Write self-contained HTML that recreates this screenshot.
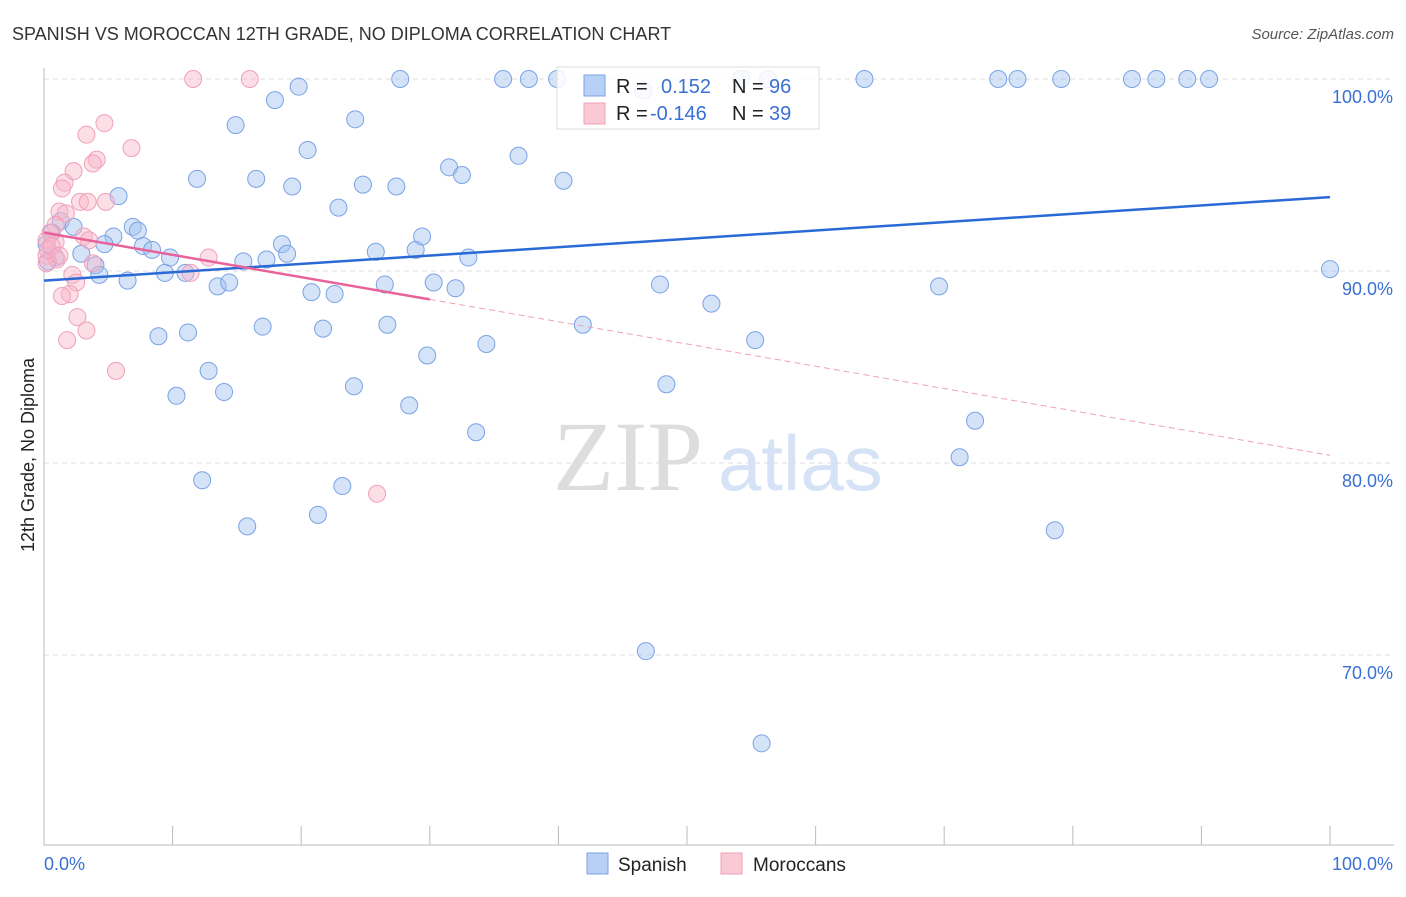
<!DOCTYPE html>
<html><head><meta charset="utf-8"><style>
body{margin:0;background:#fff;font-family:"Liberation Sans",sans-serif;}
svg text{font-family:"Liberation Sans",sans-serif;}
</style></head><body>
<svg id="chart" width="1406" height="892" xmlns="http://www.w3.org/2000/svg">
<text x="12" y="40" font-size="18" fill="#333">SPANISH VS MOROCCAN 12TH GRADE, NO DIPLOMA CORRELATION CHART</text>
<text x="1394" y="39" font-size="15" fill="#555" font-style="italic" text-anchor="end">Source: ZipAtlas.com</text>
<text x="34" y="455" font-size="18" fill="#222" transform="rotate(-90 34 455)" text-anchor="middle">12th Grade, No Diploma</text>
<text x="553" y="490" font-size="100" fill="#ddd" font-family="Liberation Serif" style="font-family:'Liberation Serif',serif">ZIP</text>
<text x="718" y="490" font-size="78" fill="#d6e2f5">atlas</text>
<g id="grid"></g><g id="axes"></g><g id="lines"></g><g id="pts"></g>
<g>
<rect x="557" y="67" width="262" height="62" fill="#fff" fill-opacity="0.85" stroke="#ddd"/>
<rect x="584" y="75" width="21" height="21" fill="#b8d0f5" stroke="#7aa3e5"/>
<rect x="584" y="103" width="21" height="21" fill="#fbc8d6" stroke="#f0a0b8"/>
<text x="616" y="93" font-size="20" fill="#222">R = </text><text x="661" y="93" font-size="20" fill="#3a6fd4">0.152</text>
<text x="732" y="93" font-size="20" fill="#222">N = </text><text x="769" y="93" font-size="20" fill="#3a6fd4">96</text>
<text x="616" y="120" font-size="20" fill="#222">R = </text><text x="650" y="120" font-size="20" fill="#3a6fd4">-0.146</text>
<text x="732" y="120" font-size="20" fill="#222">N = </text><text x="769" y="120" font-size="20" fill="#3a6fd4">39</text>
</g>
<g>
<rect x="587" y="853" width="21" height="21" fill="#b8d0f5" stroke="#7aa3e5"/>
<text x="618" y="871" font-size="19" fill="#222">Spanish</text>
<rect x="721" y="853" width="21" height="21" fill="#fbc8d6" stroke="#f0a0b8"/>
<text x="753" y="871" font-size="19" fill="#222">Moroccans</text>
</g>
</svg>
<script>
const yTicks=[100,90,80,70];
const yTickLabels=["100.0%","90.0%","80.0%","70.0%"];
const xEndLabels=["0.0%","100.0%"];
const spanishX=[27.7,35.7,37.7,39.9,54.2,56.3,63.8,74.2,75.7,79.1,84.6,86.5,88.9,90.6,46.6,19.8,17.96,24.2,14.9,20.5,36.9,11.9,16.5,19.3,24.8,27.4,31.5,32.5,40.4,5.8,22.9,1.3,2.3,6.9,7.3,5.4,4.7,7.7,8.4,2.9,9.8,18.5,18.9,25.8,28.9,29.4,33.0,15.5,17.3,4.0,4.3,6.5,9.4,11.0,13.5,14.4,20.8,22.6,26.5,30.3,32.0,47.9,51.9,69.6,100,8.9,11.2,17.0,21.7,26.7,34.4,41.9,55.3,29.8,12.8,24.1,48.4,10.3,14.0,28.4,33.6,72.4,71.2,12.3,23.2,21.3,15.8,78.6,46.8,55.8,0.6,0.9,0.3,0.2];
const spanishY=[100,100,100,100,100,100,100,100,100,100,100,100,100,100,99.4,99.6,98.9,97.9,97.6,96.3,96.0,94.8,94.8,94.4,94.5,94.4,95.4,95.0,94.7,93.9,93.3,92.6,92.3,92.3,92.1,91.8,91.4,91.3,91.1,90.9,90.7,91.4,90.9,91.0,91.1,91.8,90.7,90.5,90.6,90.3,89.8,89.5,89.9,89.9,89.2,89.4,88.9,88.8,89.3,89.4,89.1,89.3,88.3,89.2,90.1,86.6,86.8,87.1,87.0,87.2,86.2,87.2,86.4,85.6,84.8,84.0,84.1,83.5,83.7,83.0,81.6,82.2,80.3,79.1,78.8,77.3,76.7,76.5,70.2,65.4,92.0,90.7,90.5,91.4];
const moroccanX=[11.6,16.0,4.7,3.3,6.8,4.1,3.8,2.3,1.6,1.4,4.8,2.8,3.4,1.2,1.7,0.9,0.5,3.1,0.9,0.2,0.2,1.0,0.2,3.8,12.8,11.4,2.2,2.5,2.0,1.4,2.6,3.3,1.8,5.6,25.9,0.3,0.6,3.5,1.2];
const moroccanY=[100,100,97.7,97.1,96.4,95.8,95.6,95.2,94.6,94.3,93.6,93.6,93.6,93.1,93.0,92.4,92.0,91.8,91.5,91.6,90.8,90.6,90.4,90.4,90.7,89.9,89.8,89.4,88.8,88.7,87.6,86.9,86.4,84.8,78.4,91.1,91.3,91.6,90.8];
const spanishTrend=[89.5,93.85];
const moroccanTrend=[92.0,80.4];
const NS="http://www.w3.org/2000/svg";
const X=v=>44+v*12.86, Y=v=>79+(100-v)*19.2;
function mk(t,a,p){const e=document.createElementNS(NS,t);for(const k in a)e.setAttribute(k,a[k]);p.appendChild(e);return e;}
const grid=document.getElementById('grid'),axes=document.getElementById('axes'),lines=document.getElementById('lines'),pts=document.getElementById('pts');
yTicks.forEach((t,i)=>{
 const g=mk('line',{x1:44,x2:1394,y1:Y(t),y2:Y(t),stroke:'#ddd','stroke-dasharray':'5,4'},grid);
 
 
 const l=mk('text',{x:1393,y:Y(t)+24,'font-size':18,fill:'#3a6fd4','text-anchor':'end'},axes);l.textContent=yTickLabels[i];
 
 
});
mk('line',{x1:44,x2:44,y1:68,y2:845,stroke:'#bbb'},axes);
mk('line',{x1:44,x2:1394,y1:845,y2:845,stroke:'#bbb'},axes);
for(let i=0;i<=10;i++){const t=mk('line',{x1:X(i*10),x2:X(i*10),y1:826,y2:845,stroke:'#bbb'},axes);
 
 }
const a0=mk('text',{x:44,y:870,'font-size':18,fill:'#3a6fd4'},axes);a0.textContent=xEndLabels[0];


const a1=mk('text',{x:1393,y:870,'font-size':18,fill:'#3a6fd4','text-anchor':'end'},axes);a1.textContent=xEndLabels[1];


spanishX.forEach((x,i)=>{const c=mk('circle',{cx:X(x),cy:Y(spanishY[i]),r:8.5,fill:'rgba(160,192,240,0.45)',stroke:'#7aa3e5','stroke-width':1},pts);
 
 });
moroccanX.forEach((x,i)=>{const c=mk('circle',{cx:X(x),cy:Y(moroccanY[i]),r:8.5,fill:'rgba(248,182,202,0.45)',stroke:'#f0a0b8','stroke-width':1},pts);
 
 });
const bl=mk('line',{x1:X(0),y1:Y(spanishTrend[0]),x2:X(100),y2:Y(spanishTrend[1]),stroke:'#2a6ad6','stroke-width':2.5},pts);


const pm=v=>moroccanTrend[0]+(moroccanTrend[1]-moroccanTrend[0])*v/100;
const pl=mk('line',{x1:X(0),y1:Y(pm(0)),x2:X(30),y2:Y(pm(30)),stroke:'#e8629a','stroke-width':2.5},pts);


const pd=mk('line',{x1:X(30),y1:Y(pm(30)),x2:X(100),y2:Y(pm(100)),stroke:'#f0a0b8','stroke-width':1,'stroke-dasharray':'6,4'},pts);


</script>
</body></html>
